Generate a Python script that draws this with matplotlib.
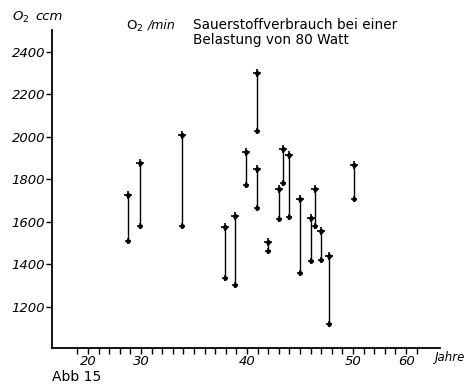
import matplotlib
matplotlib.use("Agg")
import matplotlib.pyplot as plt

# Age (x position on the printed axis) of each subject
ages = [28.8, 29.9, 33.9, 37.9, 38.9, 39.9, 40.9, 40.9, 42.0, 43.0, 43.4, 44.0,
        45.0, 46.0, 46.4, 47.0, 47.7, 50.1]
# Oxygen consumption (ccm O2/min): upper and lower value per subject
o2_high = [1726, 1878, 2006, 1574, 1628, 1927, 2298, 1848, 1506, 1755, 1944, 1914,
           1708, 1616, 1755, 1555, 1439, 1865]
o2_low = [1511, 1577, 1577, 1334, 1302, 1773, 2027, 1666, 1462, 1614, 1784, 1624,
          1357, 1414, 1580, 1420, 1117, 1708]

y_ticks = [1200, 1400, 1600, 1800, 2000, 2200, 2400]
x_tick_pos = [25, 30, 40, 50, 55]
x_tick_labels = ["20", "30", "40", "50", "60"]

W, H = 473, 385
fig = plt.figure(figsize=(W / 100, H / 100), dpi=100)
ax = fig.add_axes([52 / W, 37 / H, (440 - 52) / W, (348 - 30) / H])

for a, hi, lo in zip(ages, o2_high, o2_low):
    ax.plot([a, a], [lo, hi], color="black", lw=1.0, solid_capstyle="butt")
ax.plot(ages, o2_high, "+", color="black", ms=6, mew=1.2)
ax.plot(ages, o2_high, "o", color="black", ms=2.5)
ax.plot(ages, o2_low, "+", color="black", ms=5, mew=1.1)
ax.plot(ages, o2_low, "o", color="black", ms=2.3)

ax.set_xlim(21.6, 58.2)
ax.set_ylim(1005, 2502)
for s in ["top", "right"]:
    ax.spines[s].set_visible(False)
for s in ["left", "bottom"]:
    ax.spines[s].set_linewidth(1.3)

ax.set_yticks(y_ticks)
ax.set_yticklabels([str(v) for v in y_ticks], fontstyle="italic", fontsize=9.5)
ax.set_xticks(x_tick_pos)
ax.set_xticklabels(x_tick_labels, fontstyle="italic", fontsize=9.5)
ax.set_xticks(list(range(24, 57)), minor=True)
ax.tick_params(axis="x", which="both", direction="out", length=4, width=1.0, pad=1)
ax.tick_params(axis="y", which="major", direction="out", length=4, width=1.0, pad=1)

def ftext(px, py, s, **kw):
    fig.text(px / W, 1 - py / H, s, **kw)

ftext(12, 17, r"$\mathit{O_2}$ ", fontsize=9.5, va="center", ha="left")
ftext(35, 16, "ccm", fontsize=9.5, va="center", ha="left", fontstyle="italic")
ftext(126, 26, r"O$_2$", fontsize=9.5, va="center", ha="left")
ftext(148, 25, "/min", fontsize=9, va="center", ha="left", fontstyle="italic")
ftext(193, 25, "Sauerstoffverbrauch bei einer", fontsize=9.8, va="center", ha="left")
ftext(193, 40, "Belastung von 80 Watt", fontsize=9.8, va="center", ha="left")
ftext(435, 357, "Jahre", fontsize=8.5, va="center", ha="left", fontstyle="italic")
ftext(52, 377, "Abb 15", fontsize=10, va="center", ha="left")

fig.savefig("out.png", dpi=100)
